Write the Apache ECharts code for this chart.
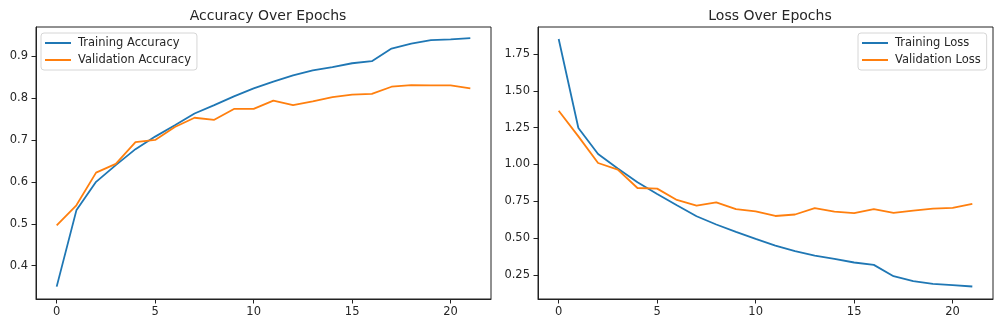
<!DOCTYPE html>
<html>
<head>
<meta charset="utf-8">
<script src="https://cdn.jsdelivr.net/npm/echarts@6/dist/echarts.min.js"></script>
<style>
html,body{margin:0;padding:0;background:#fff;}
#chart{width:1000px;height:328px;}
</style>
</head>
<body>
<div id="chart"></div>
<script>
const epochs = [0,1,2,3,4,5,6,7,8,9,10,11,12,13,14,15,16,17,18,19,20,21];
const trainAcc = [0.350,0.532,0.600,0.640,0.678,0.708,0.735,0.763,0.783,0.804,0.823,0.839,0.854,0.866,0.874,0.883,0.888,0.918,0.930,0.938,0.940,0.943];
const valAcc = [0.496,0.544,0.622,0.643,0.695,0.700,0.731,0.753,0.748,0.774,0.774,0.794,0.783,0.792,0.802,0.808,0.810,0.827,0.831,0.830,0.830,0.823];
const trainLoss = [1.852,1.248,1.071,0.972,0.879,0.800,0.723,0.648,0.592,0.542,0.494,0.449,0.411,0.381,0.359,0.334,0.318,0.241,0.207,0.189,0.180,0.171];
const valLoss = [1.365,1.191,1.010,0.965,0.840,0.836,0.759,0.721,0.743,0.696,0.682,0.650,0.660,0.703,0.680,0.669,0.696,0.671,0.687,0.700,0.705,0.732];
const xTicks = [0,5,10,15,20];
const accTicks = [0.4,0.5,0.6,0.7,0.8,0.9];
const lossTicks = [0.25,0.50,0.75,1.00,1.25,1.50,1.75];

const FONT = 'DejaVu Sans';
const TXT = '#262626';
const pairs = (ys) => epochs.map((e, i) => [e, ys[i]]);
const blue = '#1f77b4', orange = '#ff7f0e';

function xAxis(gridIndex) {
  return {
    type: 'value', gridIndex, min: -1.05, max: 22.05,
    axisLine: {show: true, onZero: false, lineStyle: {color: '#222', width: 1}},
    axisTick: {show: true, inside: false, length: 4.5, lineStyle: {color: '#222', width: 1}, customValues: xTicks},
    axisLabel: {show: true, margin: 7, color: TXT, fontFamily: FONT, fontSize: 11.5, customValues: xTicks, formatter: v => String(v)},
    splitLine: {show: false}
  };
}
function yAxis(gridIndex, min, max, ticks, dec) {
  return {
    type: 'value', gridIndex, min, max,
    axisLine: {show: true, onZero: false, lineStyle: {color: '#222', width: 1}},
    axisTick: {show: true, inside: false, length: 4.5, lineStyle: {color: '#222', width: 1}, customValues: ticks},
    axisLabel: {show: true, margin: 8, color: TXT, fontFamily: FONT, fontSize: 11.5, customValues: ticks, formatter: v => v.toFixed(dec)},
    splitLine: {show: false}
  };
}
function series(name, ys, color, idx) {
  return {
    name, type: 'line', xAxisIndex: idx, yAxisIndex: idx, data: pairs(ys),
    showSymbol: false, symbol: 'none', smooth: false, animation: false,
    lineStyle: {color, width: 1.8}, itemStyle: {color}
  };
}
const legendCommon = {
  orient: 'vertical', top: 33, itemWidth: 26, itemHeight: 2, itemGap: 5,
  icon: 'rect', padding: [4, 6, 4, 4],
  borderColor: '#d6d6d6', borderWidth: 1, borderRadius: 3, backgroundColor: 'rgba(255,255,255,0.8)',
  textStyle: {fontFamily: FONT, fontSize: 11.5, color: TXT, padding: [0, 0, 0, 2]}
};

const chart = echarts.init(document.getElementById('chart'), null, {renderer: 'canvas'});
chart.setOption({
  animation: false,
  backgroundColor: '#fff',
  title: [
    {text: 'Accuracy Over Epochs', left: 263, top: 4, textAlign: 'center',
     textStyle: {fontFamily: FONT, fontSize: 14, fontWeight: 'normal', color: TXT}},
    {text: 'Loss Over Epochs', left: 765, top: 4, textAlign: 'center',
     textStyle: {fontFamily: FONT, fontSize: 14, fontWeight: 'normal', color: TXT}}
  ],
  grid: [
    {left: 36, top: 27, width: 455, height: 272, show: true, borderColor: '#222', borderWidth: 1, backgroundColor: 'transparent'},
    {left: 538, top: 27, width: 455, height: 272, show: true, borderColor: '#222', borderWidth: 1, backgroundColor: 'transparent'}
  ],
  legend: [
    Object.assign({}, legendCommon, {left: 41, data: ['Training Accuracy', 'Validation Accuracy']}),
    Object.assign({}, legendCommon, {left: 858, data: ['Training Loss', 'Validation Loss']})
  ],
  xAxis: [xAxis(0), xAxis(1)],
  yAxis: [yAxis(0, 0.3205, 0.9695, accTicks, 1), yAxis(1, 0.086, 1.934, lossTicks, 2)],
  series: [
    series('Training Accuracy', trainAcc, blue, 0),
    series('Validation Accuracy', valAcc, orange, 0),
    series('Training Loss', trainLoss, blue, 1),
    series('Validation Loss', valLoss, orange, 1)
  ]
});
</script>
</body>
</html>
